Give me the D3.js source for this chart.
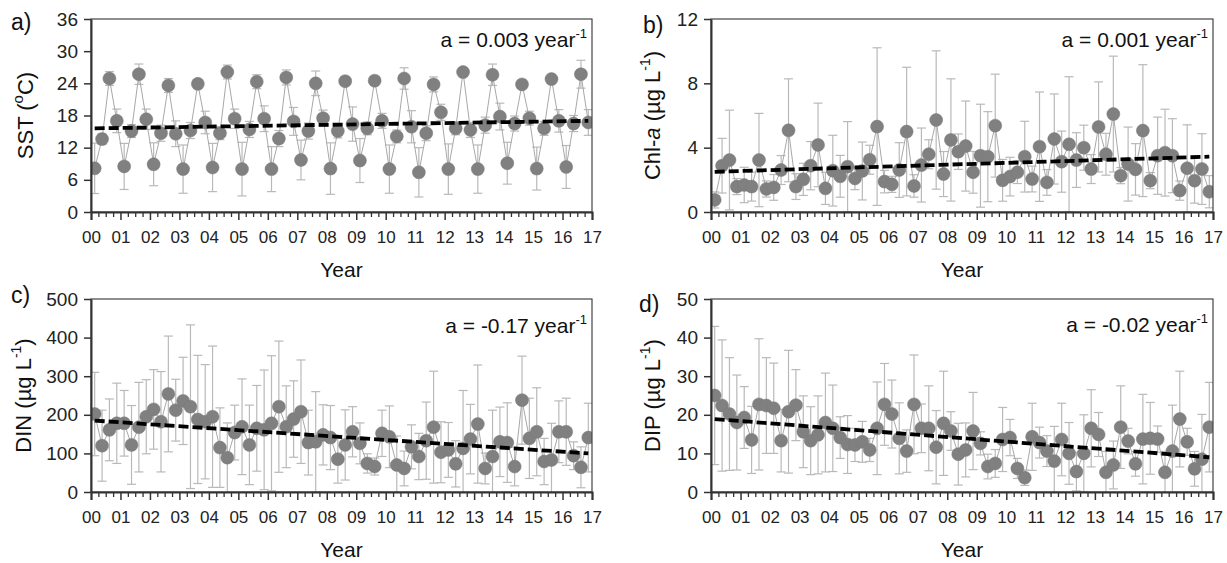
<!DOCTYPE html>
<html>
<head>
<meta charset="utf-8">
<script src="https://cdn.jsdelivr.net/npm/d3@7"></script>
<style>
  html, body { margin: 0; padding: 0; background: #fff; }
  svg { display: block; font-family: "Liberation Sans", Arial, sans-serif; }
</style>
</head>
<body>
<svg id="chart" width="1227" height="563"></svg>
<script>
// ---------------- DATA ----------------
const yearLabels = ["00","01","02","03","04","05","06","07","08","09","10","11","12","13","14","15","16","17"];
const sampleYears = [0,1,2,3,4,5,6,7,8,9,10,11,12,13,14,15,16];
const sampleMonths = [2, 5, 8, 11]; // Feb, May, Aug, Nov

const sstMean = [8.15,13.6,24.9,17.0, 8.5,15.1,25.7,17.3, 8.9,14.7,23.6,14.6, 8.0,15.2,23.9,16.7,
                 8.3,14.7,26.1,17.4, 8.0,15.4,24.3,17.4, 8.0,13.7,25.1,16.9, 9.7,15.1,24.0,17.5,
                 8.1,15.1,24.4,16.4, 9.6,15.6,24.5,17.0, 8.0,14.1,24.9,15.9, 7.4,14.7,23.8,18.6,
                 8.0,15.6,26.1,15.3, 8.0,16.2,25.6,17.8, 9.1,16.5,23.8,17.5, 8.1,15.6,24.8,17.0,
                 8.4,16.5,25.7,16.7];
const sstSd = [4.7,1.0,1.3,2.2, 4.3,1.2,1.9,1.9, 4.0,1.5,1.3,2.4, 4.5,1.5,0.6,2.1,
               4.5,1.2,1.3,1.8, 5.0,1.5,1.3,2.4, 4.2,1.5,1.4,2.6, 3.7,1.5,2.3,1.5,
               4.8,1.3,0.8,3.2, 4.1,1.2,0.8,1.4, 4.5,1.2,2.0,3.0, 4.6,1.4,1.4,1.5,
               4.7,1.2,0.6,1.4, 4.5,1.5,2.0,2.5, 3.9,1.4,0.8,1.3, 4.0,1.3,0.8,2.1,
               4.0,1.5,2.6,2.4];

const chlMean = [0.75,2.88,3.23,1.58, 1.68,1.58,3.23,1.43, 1.53,2.61,5.08,1.58, 2.03,2.88,4.17,1.47,
                 2.57,2.22,2.82,2.09, 2.55,3.25,5.31,1.89, 1.72,2.61,5.0,1.62, 2.92,3.59,5.72,2.36,
                 4.48,3.75,4.1,2.47, 3.5,3.44,5.37,1.97, 2.2,2.47,3.44,2.05, 4.06,1.84,4.54,3.13,
                 4.21,3.23,4.0,2.67, 5.29,3.59,6.09,2.26, 2.98,2.65,5.06,1.95, 3.5,3.69,3.5,1.33,
                 2.72,1.95,2.67,1.26];
const chlSd = [0.5,1.7,3.1,0.5, 1.1,0.9,2.9,0.5, 0.8,0.9,3.2,0.8, 1.0,1.5,2.6,1.0,
               2.2,1.3,2.8,0.7, 1.8,0.9,4.9,0.7, 0.5,1.7,4.0,0.7, 2.3,0.9,4.3,1.4,
               3.8,1.1,2.8,1.3, 3.2,2.8,3.2,1.3, 1.2,0.7,2.2,0.8, 3.4,0.8,2.8,1.9,
               4.2,1.7,1.4,0.9, 2.8,1.3,3.6,0.5, 2.3,1.6,4.1,0.5, 2.4,2.7,2.3,0.6,
               2.7,1.4,2.2,1.0];

const dinMean = [202,120,161,178, 178,122,168,195, 214,182,254,212, 236,221,188,182,
                 195,115,89,154, 169,122,165,161, 178,221,169,189, 208,128,130,148,
                 141,85,122,156, 126,74,66,152, 143,70,61,117, 92,133,168,103,
                 109,73,113,137, 176,61,92,130, 128,66,238,139, 156,79,83,156,
                 156,94,64,141];
const dinSd = [108,92,80,104, 85,102,116,96, 103,130,150,80, 113,212,166,148,
               183,103,90,71, 124,103,111,155, 175,170,106,99, 134,84,130,78,
               83,62,91,65, 53,25,22,60, 80,75,45,57, 60,100,145,79,
               71,60,150,90, 153,40,120,90, 103,50,114,104, 114,60,95,80,
               87,36,53,89];

const dipMean = [25.0,22.4,20.2,18.0, 19.3,13.5,22.7,22.4, 21.7,13.3,20.8,22.5, 15.6,13.3,14.8,18.0,
                 16.5,14.1,12.3,12.2, 13.0,10.9,16.5,22.7, 20.2,13.9,10.6,22.7, 16.5,16.5,11.6,17.8,
                 15.8,9.8,10.9,15.8, 12.6,6.6,7.4,13.6, 14.1,6.1,3.7,14.3, 12.8,10.6,8.0,13.6,
                 10.0,5.3,10.0,16.5, 14.9,5.1,7.0,16.8, 13.2,7.3,13.7,13.9, 13.7,5.1,10.6,18.9,
                 13.0,6.0,8.5,16.8];
const dipSd = [17.9,17.0,14.6,12.3, 8.0,8.7,17.0,12.4, 11.7,8.1,15.9,9.2, 9.3,8.8,10.1,12.8,
               11.2,5.4,7.5,4.3, 5.3,3.0,12.0,10.6, 8.8,9.2,5.5,12.8, 6.3,11.0,9.5,13.5,
               5.0,8.0,7.0,10.0, 3.0,3.2,3.6,8.3, 4.7,2.6,2.0,8.7, 4.0,4.0,9.0,9.4,
               8.0,5.0,10.0,10.0, 5.7,5.4,6.2,10.7, 3.3,3.2,11.6,9.3, 3.4,5.4,11.9,12.4,
               3.5,4.5,11.6,11.6];

// linear trend end values (first sample, last sample)
const trendSST = [15.6, 17.0];
const trendChl = [2.5, 3.44];
const trendDIN = [185, 100];
const trendDIP = [18.9, 9.0];

const slopeLabels = ["0.003", "0.001", "-0.17", "-0.02"];
const panelLetters = ["a)", "b)", "c)", "d)"];

const sstTicks = [0, 6, 12, 18, 24, 30, 36];
const chlTicks = [0, 4, 8, 12];
const dinTicks = [0, 100, 200, 300, 400, 500];
const dipTicks = [0, 10, 20, 30, 40, 50];

// sample times in decimal years since 2000 (mid-month)
const sampleTimes = [];
sampleYears.forEach(yr => sampleMonths.forEach(m => sampleTimes.push(yr + (m - 0.5) / 12)));

// ---------------- DRAW ----------------
const svg = d3.select("#chart");
const FONT = '"Liberation Sans", Arial, sans-serif';

function drawPanel(p) {
  const g = svg.append("g");
  const x = d3.scaleLinear().domain([0, 17]).range([p.x0, p.x1]);
  const y = d3.scaleLinear().domain([p.ticks[0], p.ticks[p.ticks.length - 1]]).range([p.y1, p.y0]);
  const data = p.mean.map((v, i) => ({ t: sampleTimes[i], v: v, sd: p.sd[i] }));
  const yMin = y.domain()[0], yMax = y.domain()[1];

  const clipId = "clip" + p.id;
  svg.append("clipPath").attr("id", clipId).append("rect")
    .attr("x", p.x0).attr("y", p.y0).attr("width", p.x1 - p.x0).attr("height", p.y1 - p.y0);

  const plot = g.append("g").attr("clip-path", `url(#${clipId})`);

  // error bars
  const eb = plot.append("g").attr("stroke", "#b9b9b9").attr("stroke-width", 1.2).attr("fill", "none");
  data.forEach(d => {
    const hi = Math.min(d.v + d.sd, yMax), lo = Math.max(d.v - d.sd, yMin);
    const cx = x(d.t);
    eb.append("line").attr("x1", cx).attr("x2", cx).attr("y1", y(hi)).attr("y2", y(lo));
    if (d.v + d.sd <= yMax) eb.append("line").attr("x1", cx - 4.5).attr("x2", cx + 4.5).attr("y1", y(hi)).attr("y2", y(hi));
    if (d.v - d.sd >= yMin) eb.append("line").attr("x1", cx - 4.5).attr("x2", cx + 4.5).attr("y1", y(lo)).attr("y2", y(lo));
  });

  // connecting line
  plot.append("path").datum(data)
    .attr("fill", "none").attr("stroke", "#a8a8a8").attr("stroke-width", 1)
    .attr("d", d3.line().x(d => x(d.t)).y(d => y(d.v)));

  // markers
  plot.append("g").selectAll("circle").data(data).join("circle")
    .attr("cx", d => x(d.t)).attr("cy", d => y(d.v)).attr("r", 6.5)
    .attr("fill", "#808080").attr("stroke", "#7a7a7a").attr("stroke-width", 0.5);

  // trend line
  const tFirst = sampleTimes[0], tLast = sampleTimes[sampleTimes.length - 1];
  g.append("line")
    .attr("x1", x(tFirst)).attr("y1", y(p.trend[0]))
    .attr("x2", x(tLast)).attr("y2", y(p.trend[1]))
    .attr("stroke", "#000").attr("stroke-width", 3.8).attr("stroke-dasharray", "10,4");

  // frame
  g.append("rect").attr("x", p.x0).attr("y", p.y0).attr("width", p.x1 - p.x0).attr("height", p.y1 - p.y0)
    .attr("fill", "none").attr("stroke", "#444").attr("stroke-width", 1.2);

  // x axis: major + minor ticks
  const minor = [];
  for (let i = 0; i <= 17 * 4; i++) if (i % 4 !== 0) minor.push(i / 4);
  const xMinor = g.append("g").attr("transform", `translate(0,${p.y1})`)
    .call(d3.axisBottom(x).tickValues(minor).tickSize(5).tickFormat(""));
  xMinor.select(".domain").remove();
  xMinor.selectAll("line").attr("stroke", "#333").attr("stroke-width", 1.3);

  const xAxis = g.append("g").attr("transform", `translate(0,${p.y1})`)
    .call(d3.axisBottom(x).tickValues(d3.range(0, 18)).tickSize(8).tickPadding(11)
      .tickFormat(d => yearLabels[d]));
  xAxis.select(".domain").attr("stroke", "#333").attr("stroke-width", 2);
  xAxis.selectAll("line").attr("stroke", "#333").attr("stroke-width", 1.5);
  xAxis.selectAll("text").attr("font-size", 17).attr("font-family", FONT).attr("fill", "#222");

  // y axis
  const yAxis = g.append("g").attr("transform", `translate(${p.x0},0)`)
    .call(d3.axisLeft(y).tickValues(p.ticks).tickSize(7).tickPadding(6).tickSizeOuter(0));
  yAxis.select(".domain").attr("stroke", "#333").attr("stroke-width", 2);
  yAxis.selectAll("line").attr("stroke", "#333").attr("stroke-width", 1.5);
  yAxis.selectAll("text").attr("font-size", 19).attr("font-family", FONT).attr("fill", "#222");

  // x title
  g.append("text").attr("x", (p.x0 + p.x1) / 2).attr("y", p.y1 + 65)
    .attr("text-anchor", "middle").attr("font-size", 21).attr("fill", "#111").text("Year");

  // y title
  const yt = g.append("text")
    .attr("transform", `translate(${p.titleX},${(p.y0 + p.y1) / 2}) rotate(-90)`)
    .attr("text-anchor", "middle").attr("dominant-baseline", "middle")
    .attr("font-size", 22).attr("fill", "#111");
  p.title(yt);

  // panel letter
  g.append("text").attr("x", p.letterX).attr("y", p.letterY)
    .attr("font-size", 23).attr("fill", "#111").text(p.letter);

  // slope annotation
  const an = g.append("text").attr("x", p.x1 - 5).attr("y", p.annY)
    .attr("text-anchor", "end").attr("font-size", 21).attr("fill", "#111");
  an.append("tspan").text(`a = ${p.slope} year`);
  an.append("tspan").attr("font-size", 13).attr("dy", -9).text("-1");
}

function unitTitle(prefix, italicA) {
  return sel => {
    if (italicA) {
      sel.append("tspan").text("Chl-");
      sel.append("tspan").attr("font-style", "italic").text("a");
      sel.append("tspan").text(" (µg L");
    } else {
      sel.append("tspan").text(prefix + " (µg L");
    }
    sel.append("tspan").attr("font-size", 14).attr("dy", -8).text("-1");
    sel.append("tspan").attr("dy", 8).text(")");
  };
}

const panels = [
  { id: "a", x0: 91, x1: 592, y0: 19, y1: 212, ticks: sstTicks, mean: sstMean, sd: sstSd, trend: trendSST,
    slope: slopeLabels[0], letter: panelLetters[0], letterX: 11, letterY: 30, annY: 47, titleX: 27,
    title: sel => {
      sel.append("tspan").text("SST (");
      sel.append("tspan").attr("font-size", 15).attr("dy", -8).text("o");
      sel.append("tspan").attr("dy", 8).text("C)");
    } },
  { id: "b", x0: 711, x1: 1213, y0: 19, y1: 212, ticks: chlTicks, mean: chlMean, sd: chlSd, trend: trendChl,
    slope: slopeLabels[1], letter: panelLetters[1], letterX: 643, letterY: 33, annY: 47, titleX: 654,
    title: unitTitle("Chl-a", true) },
  { id: "c", x0: 91, x1: 592, y0: 299, y1: 492, ticks: dinTicks, mean: dinMean, sd: dinSd, trend: trendDIN,
    slope: slopeLabels[2], letter: panelLetters[2], letterX: 11, letterY: 303, annY: 333, titleX: 25,
    title: unitTitle("DIN", false) },
  { id: "d", x0: 711, x1: 1213, y0: 299, y1: 492, ticks: dipTicks, mean: dipMean, sd: dipSd, trend: trendDIP,
    slope: slopeLabels[3], letter: panelLetters[3], letterX: 639, letterY: 312, annY: 332, titleX: 654,
    title: unitTitle("DIP", false) }
];

panels.forEach(drawPanel);
</script>
</body>
</html>
